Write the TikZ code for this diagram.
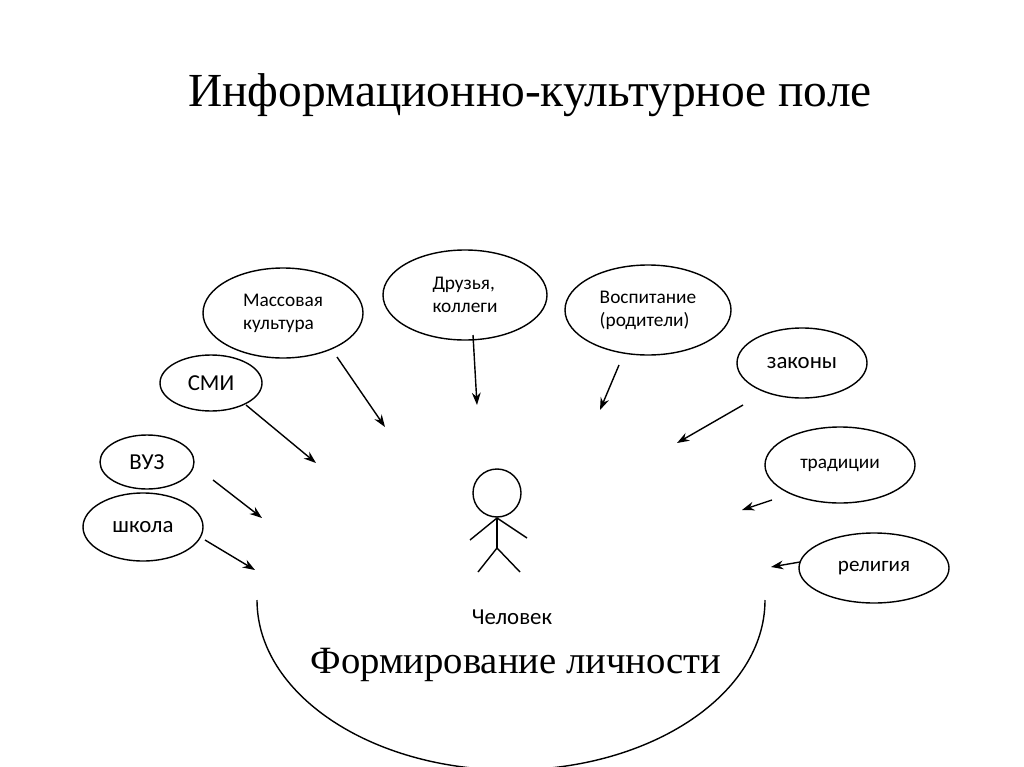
\documentclass[tikz,border=0pt]{standalone}
\usepackage{fontspec}
\setmainfont{Liberation Serif}
\newfontfamily\calfont{Carlito}
\usetikzlibrary{shapes.geometric,arrows.meta}
\begin{document}
\begin{tikzpicture}[x=0.02cm,y=-0.02cm,
  bub/.style={draw,ellipse,line width=0.8pt,font=\calfont\fontsize{11}{13}\selectfont,align=left,inner sep=0pt},
  arr/.style={-{Stealth[length=7pt,width=5pt]},line width=0.8pt},
  lw/.style={line width=0.8pt}]
\useasboundingbox (0,0) rectangle (1024,767);
\node (title) at (530,95) {\fontsize{27}{30}\selectfont Информационно-культурное поле};
\node (form) at (516,665) {\fontsize{22}{26}\selectfont Формирование личности};
\node[font=\calfont\fontsize{13}{15}\selectfont] (man) at (512,617) {Человек};
\draw[lw] (257,600) arc[start angle=180,end angle=0,x radius=254,y radius=170];
% stick figure
\node[draw,circle,lw,minimum size=48*0.02cm,inner sep=0] (head) at (497,493) {};
\coordinate (neck) at (497,548);
\draw[lw] (head.south) -- (neck);
\draw[lw] (470,540) -- (497,518) -- (527,538);
\draw[lw] (478,572) -- (neck) -- (520,572);
% bubbles
\node[bub,minimum width=160*0.02cm,minimum height=90*0.02cm] (mass) at (283,313) {Массовая\\культура};
\node[bub,minimum width=164*0.02cm,minimum height=90*0.02cm] (fr) at (465,295) {Друзья,\\коллеги};
\node[bub,minimum width=166*0.02cm,minimum height=90*0.02cm] (vos) at (648,310) {Воспитание\\(родители)};
\node[bub,font=\calfont\fontsize{13}{15}\selectfont,minimum width=130*0.02cm,minimum height=70*0.02cm] (zak) at (802,363) {законы};
\node[bub,minimum width=150*0.02cm,minimum height=76*0.02cm] (trad) at (840,465) {традиции};
\node[bub,font=\calfont\fontsize{12}{14}\selectfont,minimum width=150*0.02cm,minimum height=70*0.02cm] (rel) at (874,568) {религия};
\node[bub,font=\calfont\fontsize{13}{15}\selectfont,minimum width=102*0.02cm,minimum height=56*0.02cm] (smi) at (211,383) {СМИ};
\node[bub,font=\calfont\fontsize{13}{15}\selectfont,minimum width=94*0.02cm,minimum height=54*0.02cm] (vuz) at (147,462) {ВУЗ};
\node[bub,font=\calfont\fontsize{13}{15}\selectfont,minimum width=120*0.02cm,minimum height=68*0.02cm] (sch) at (143,527) {школа};
% arrows
\coordinate (a1) at (337,357); \coordinate (b1) at (385,427);
\coordinate (a2) at (473,335); \coordinate (b2) at (477,405);
\coordinate (a3) at (619,365); \coordinate (b3) at (600,410);
\coordinate (a4) at (743,405); \coordinate (b4) at (677,443);
\coordinate (a5) at (772,500); \coordinate (b5) at (742,510);
\coordinate (a6) at (800,562); \coordinate (b6) at (771,567);
\coordinate (a7) at (246,405); \coordinate (b7) at (316,463);
\coordinate (a8) at (213,480); \coordinate (b8) at (262,518);
\coordinate (a9) at (205,540); \coordinate (b9) at (255,570);
\foreach \i in {1,...,9} {\draw[arr] (a\i) -- (b\i);}
\end{tikzpicture}
\end{document}
